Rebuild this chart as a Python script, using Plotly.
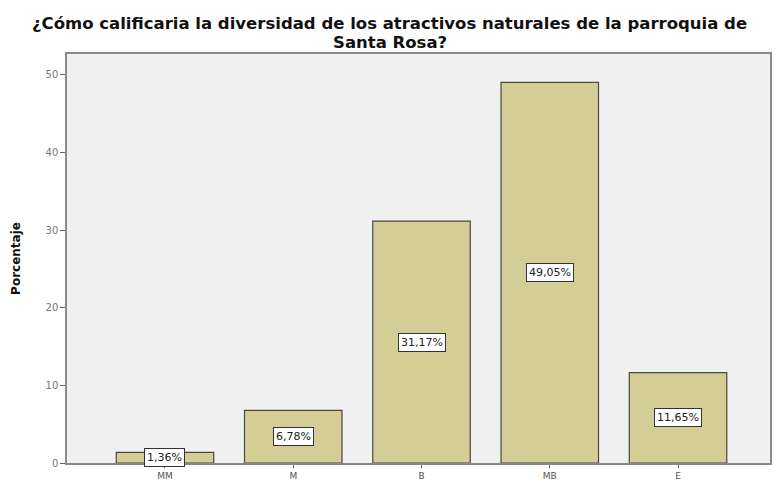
import plotly.graph_objects as go

categories = ["MM", "M", "B", "MB", "E"]
values = [1.36, 6.78, 31.17, 49.05, 11.65]
labels = ["1,36%", "6,78%", "31,17%", "49,05%", "11,65%"]
y_ticks = [0, 10, 20, 30, 40, 50]
title_lines = ["¿Cómo calificaria la diversidad de los atractivos naturales de la parroquia de",
               "Santa Rosa?"]

FONT = "DejaVu Sans, Liberation Sans, Arial"
PLOT_TOP, PLOT_BOTTOM_MARGIN, H = 54, 18, 481
plot_h = H - PLOT_TOP - PLOT_BOTTOM_MARGIN

fig = go.Figure()
fig.add_trace(go.Bar(
    x=categories, y=values, width=0.76,
    marker=dict(color="#D4CD96", line=dict(color="#4a4a3a", width=1.2)),
    hoverinfo="skip",
))

for c, v, t in zip(categories, values, labels):
    fig.add_annotation(
        x=c, y=v / 2, text=t, showarrow=False,
        font=dict(family=FONT, size=11, color="#222"),
        bgcolor="white", bordercolor="#333", borderwidth=1, borderpad=2,
    )

for line, ypix in zip(title_lines, [24, 43]):
    fig.add_annotation(
        xref="paper", yref="paper", x=0.459, y=1 + (PLOT_TOP - ypix) / plot_h,
        xanchor="center", yanchor="middle", showarrow=False,
        text="<b>" + line + "</b>",
        font=dict(family=FONT, size=16.5, color="#111"),
    )

fig.update_layout(
    width=776, height=H,
    margin=dict(l=67, r=6, t=PLOT_TOP, b=PLOT_BOTTOM_MARGIN),
    paper_bgcolor="white",
    plot_bgcolor="#F0F0F0",
    showlegend=False,
)
fig.update_xaxes(
    range=[-0.764, 4.717], showgrid=False, automargin=False,
    showline=True, linecolor="#888", linewidth=1.5, mirror=True,
    ticks="outside", ticklen=3, tickcolor="#666",
    tickfont=dict(family=FONT, size=9, color="#555"),
)
fig.update_yaxes(
    range=[0, 52.7], tickvals=y_ticks, showgrid=False, zeroline=False,
    automargin=False,
    showline=True, linecolor="#888", linewidth=1.5, mirror=True,
    ticks="outside", ticklen=5, tickcolor="#666",
    tickfont=dict(family=FONT, size=10, color="#777"),
    title=dict(text="<b>Porcentaje</b>", standoff=22,
               font=dict(family=FONT, size=12, color="#111")),
)

fig.write_html(
    "out.html",
    config={"displayModeBar": False},
    post_script="document.body.style.margin='0';document.body.style.overflow='hidden';",
)
